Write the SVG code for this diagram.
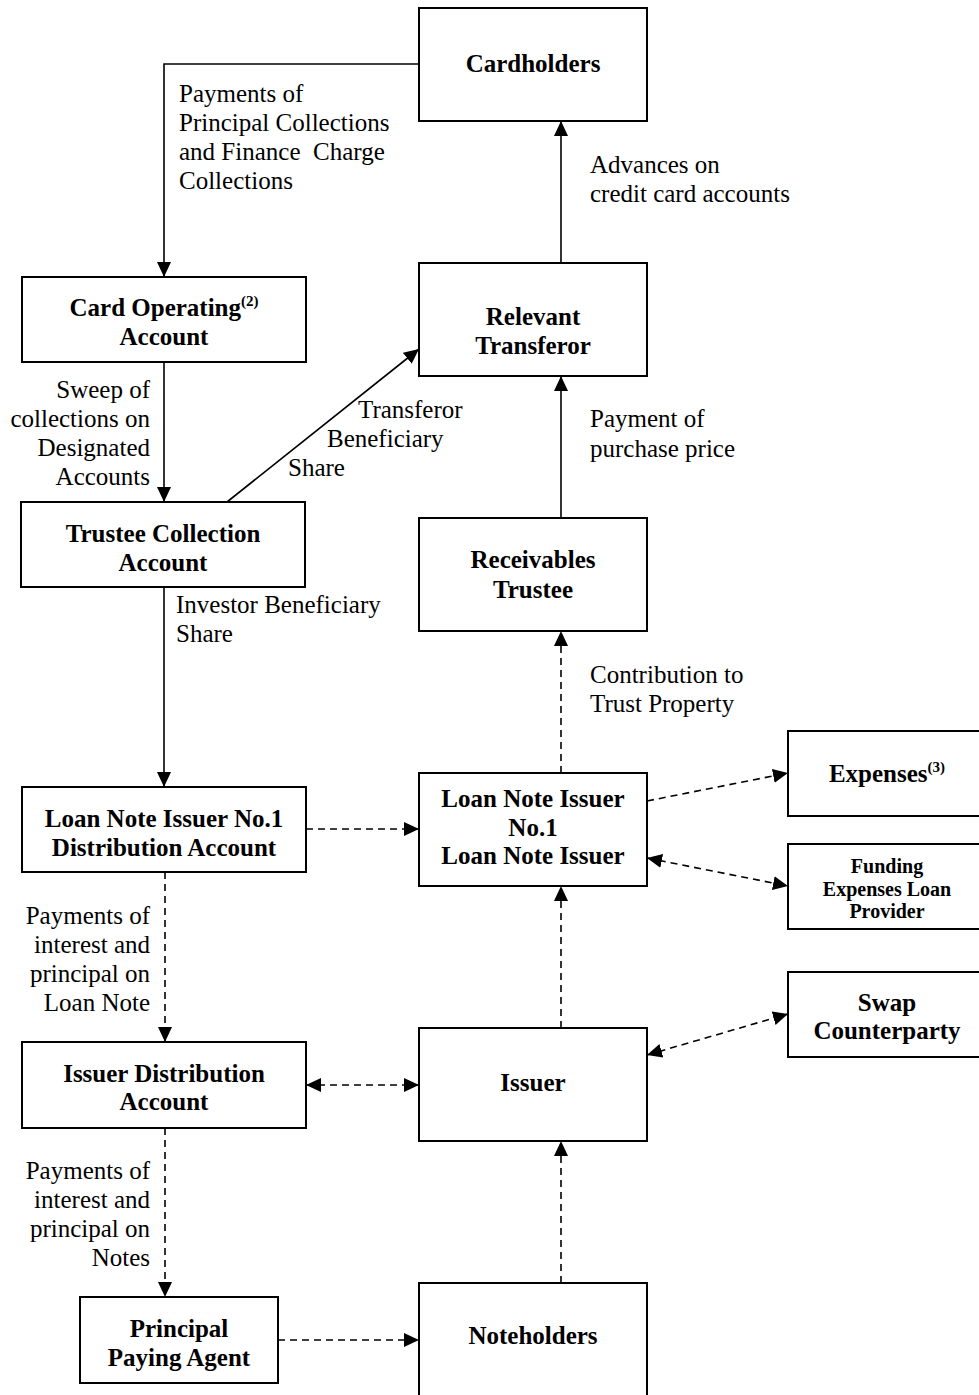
<svg xmlns="http://www.w3.org/2000/svg" width="979" height="1395" viewBox="0 0 979 1395">
<style>
.box{fill:#fff;stroke:#000;stroke-width:2}
.t{font-family:"Liberation Serif","Times New Roman",serif;font-size:25px;fill:#000}
.b{font-weight:bold;text-anchor:middle}
.sm{font-size:20px}
.sup{font-size:15px}
.ln{fill:none;stroke:#000;stroke-width:1.6}
.d{stroke-dasharray:7 5}
.e{marker-end:url(#ah)}
.s{marker-start:url(#ah)}
.r{text-anchor:end}
</style>
<defs>
<marker id="ah" viewBox="0 0 15 14" refX="15" refY="7" markerWidth="15" markerHeight="14" orient="auto-start-reverse" markerUnits="userSpaceOnUse">
<path d="M0,0 L15,7 L0,14 z" fill="#000"/>
</marker>
</defs>
<rect width="979" height="1395" fill="#fff"/>

<g id="connectors">
<path class="ln e" d="M418,64 H164 V277"/>
<path class="ln e" d="M164,362 V502"/>
<path class="ln e" d="M227,502 L419,349"/>
<path class="ln e" d="M164,587 V787"/>
<path class="ln e" d="M561,518 V376"/>
<path class="ln e" d="M561,263 V121"/>
<path class="ln d e" d="M561,773 V631"/>
<path class="ln d e" d="M306,829 H419"/>
<path class="ln d e" d="M647,801 L788,773"/>
<path class="ln d e s" d="M647,858 L788,886"/>
<path class="ln d e" d="M165,872 V1042"/>
<path class="ln d e" d="M561,1028 V886"/>
<path class="ln d e s" d="M306,1085 H419"/>
<path class="ln d e s" d="M647,1055 L788,1014"/>
<path class="ln d e" d="M165,1128 V1297"/>
<path class="ln d e" d="M561,1283 V1141"/>
<path class="ln d e" d="M278,1340 H419"/>
<g class="t">
<text x="179" y="102">Payments of</text>
<text x="179" y="131">Principal Collections</text>
<text x="179" y="160" xml:space="preserve">and Finance  Charge</text>
<text x="179" y="189">Collections</text>
<text x="590" y="173">Advances on</text>
<text x="590" y="202">credit card accounts</text>
<text class="r" x="150" y="398">Sweep of</text>
<text class="r" x="150" y="427">collections on</text>
<text class="r" x="150" y="456">Designated</text>
<text class="r" x="150" y="485">Accounts</text>
<text x="358" y="418">Transferor</text>
<text x="327" y="447">Beneficiary</text>
<text x="288" y="476">Share</text>
<text x="590" y="427">Payment of</text>
<text x="590" y="457">purchase price</text>
<text x="176" y="613">Investor Beneficiary</text>
<text x="176" y="642">Share</text>
<text x="590" y="683">Contribution to</text>
<text x="590" y="712">Trust Property</text>
<text class="r" x="150" y="924">Payments of</text>
<text class="r" x="150" y="953">interest and</text>
<text class="r" x="150" y="982">principal on</text>
<text class="r" x="150" y="1011">Loan Note</text>
<text class="r" x="150" y="1179">Payments of</text>
<text class="r" x="150" y="1208">interest and</text>
<text class="r" x="150" y="1237">principal on</text>
<text class="r" x="150" y="1266">Notes</text>
</g>
</g>

<g id="cardholders">
<rect class="box" x="419" y="8" width="228" height="113"/>
<text class="t b" x="533" y="72">Cardholders</text>
</g>
<g id="card-operating">
<rect class="box" x="22" y="277" width="284" height="85"/>
<text class="t b" x="164" y="316">Card Operating<tspan class="sup" dy="-10">(2)</tspan></text>
<text class="t b" x="164" y="345">Account</text>
</g>
<g id="relevant-transferor">
<rect class="box" x="419" y="263" width="228" height="113"/>
<text class="t b" x="533" y="325">Relevant</text>
<text class="t b" x="533" y="354">Transferor</text>
</g>
<g id="trustee-collection">
<rect class="box" x="21" y="502" width="284" height="85"/>
<text class="t b" x="163" y="542">Trustee Collection</text>
<text class="t b" x="163" y="571">Account</text>
</g>
<g id="receivables-trustee">
<rect class="box" x="419" y="518" width="228" height="113"/>
<text class="t b" x="533" y="568">Receivables</text>
<text class="t b" x="533" y="598">Trustee</text>
</g>
<g id="expenses">
<rect class="box" x="788" y="731" width="205" height="85"/>
<text class="t b" x="887" y="782">Expenses<tspan class="sup" dy="-10">(3)</tspan></text>
</g>
<g id="lni-distribution">
<rect class="box" x="22" y="787" width="284" height="85"/>
<text class="t b" x="164" y="827">Loan Note Issuer No.1</text>
<text class="t b" x="164" y="856">Distribution Account</text>
</g>
<g id="loan-note-issuer">
<rect class="box" x="419" y="773" width="228" height="113"/>
<text class="t b" x="533" y="807">Loan Note Issuer</text>
<text class="t b" x="533" y="836">No.1</text>
<text class="t b" x="533" y="864">Loan Note Issuer</text>
</g>
<g id="funding">
<rect class="box" x="788" y="844" width="205" height="85"/>
<text class="t b sm" x="887" y="873">Funding</text>
<text class="t b sm" x="887" y="896">Expenses Loan</text>
<text class="t b sm" x="887" y="918">Provider</text>
</g>
<g id="swap">
<rect class="box" x="788" y="972" width="205" height="85"/>
<text class="t b" x="887" y="1011">Swap</text>
<text class="t b" x="887" y="1039">Counterparty</text>
</g>
<g id="issuer-distribution">
<rect class="box" x="22" y="1042" width="284" height="86"/>
<text class="t b" x="164" y="1082">Issuer Distribution</text>
<text class="t b" x="164" y="1110">Account</text>
</g>
<g id="issuer">
<rect class="box" x="419" y="1028" width="228" height="113"/>
<text class="t b" x="533" y="1091">Issuer</text>
</g>
<g id="principal-paying-agent">
<rect class="box" x="80" y="1297" width="198" height="86"/>
<text class="t b" x="179" y="1337">Principal</text>
<text class="t b" x="179" y="1366">Paying Agent</text>
</g>
<g id="noteholders">
<rect class="box" x="419" y="1283" width="228" height="125"/>
<text class="t b" x="533" y="1344">Noteholders</text>
</g>
</svg>
